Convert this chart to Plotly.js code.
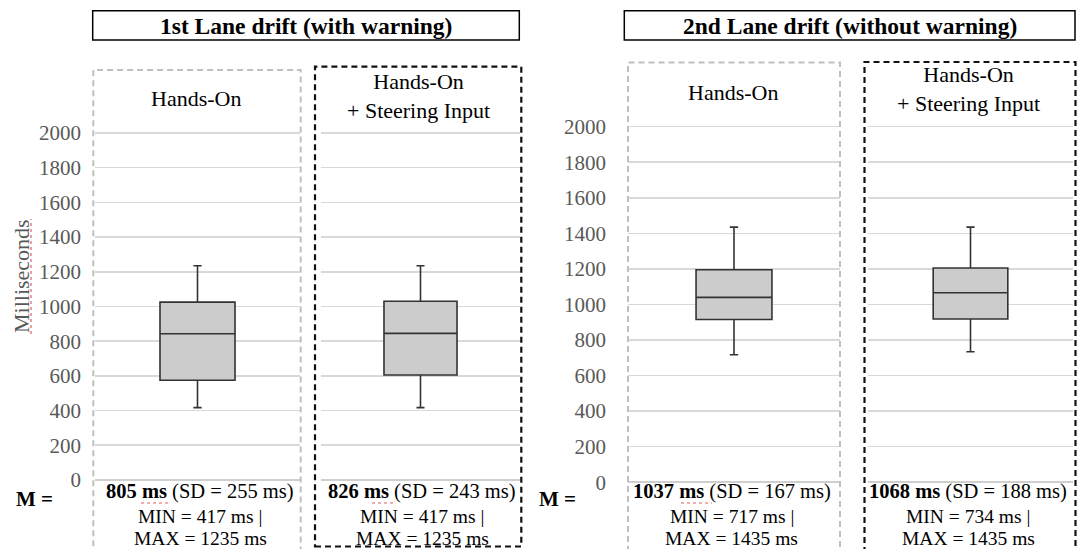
<!DOCTYPE html>
<html>
<head>
<meta charset="utf-8">
<script src="https://cdn.plot.ly/plotly-3.0.1.min.js"></script>
<style>html,body{margin:0;padding:0;background:#fff;}#chart{width:1079px;height:549px;}</style>
</head>
<body>
<div id="chart"></div>
<script>
// ---- data ----
const panelTitles = ['1st Lane drift (with warning)', '2nd Lane drift (without warning)'];
const conditions = ['Hands-On', 'Hands-On<br>+ Steering Input', 'Hands-On', 'Hands-On<br>+ Steering Input'];
const mins    = [417, 417, 717, 734];
const q1s     = [575, 605, 915, 918];
const medians = [843, 845, 1040, 1066];
const q3s     = [1025, 1030, 1195, 1205];
const maxs    = [1235, 1235, 1435, 1435];
const means   = [805, 826, 1037, 1068];
const sds     = [255, 243, 167, 188];
const yTicks  = [0, 200, 400, 600, 800, 1000, 1200, 1400, 1600, 1800, 2000];
const yTitle  = 'Milliseconds';
const mLabel  = 'M =';

// ---- helpers (pixel -> paper) ----
const W = 1079, H = 549;
const PX = p => p / W;
const PY = p => 1 - p / H;
const FONT = 'Liberation Serif, Times New Roman, serif';

// subplot pixel extents
const xDom = [[95, 300], [321, 520], [628, 840], [868, 1073]];
const xNames = ['x', 'x2', 'x3', 'x4'];
const yNames = ['y', 'y', 'y2', 'y2'];
const boxW = [0.366, 0.367, 0.358, 0.364];

const traces = mins.map((m, i) => ({
  type: 'box',
  x: [0],
  q1: [q1s[i]], median: [medians[i]], q3: [q3s[i]],
  lowerfence: [mins[i]], upperfence: [maxs[i]],
  width: boxW[i],
  whiskerwidth: 0.11,
  fillcolor: '#cccccc',
  line: {color: '#333333', width: 1.6},
  boxpoints: false,
  hoverinfo: 'skip',
  showlegend: false,
  xaxis: xNames[i], yaxis: yNames[i]
}));

const layout = {
  width: W, height: H,
  margin: {l: 0, r: 0, t: 0, b: 0},
  paper_bgcolor: '#ffffff', plot_bgcolor: 'rgba(0,0,0,0)',
  font: {family: FONT, size: 20, color: '#000'},
  showlegend: false,
  shapes: [], annotations: []
};

xNames.forEach((n, i) => {
  const key = i === 0 ? 'xaxis' : 'xaxis' + (i + 1);
  layout[key] = {
    domain: [PX(xDom[i][0]), PX(xDom[i][1])],
    anchor: yNames[i],
    range: [-0.5, 0.5], type: 'linear',
    showgrid: false, zeroline: false, showticklabels: false, showline: false, ticks: '',
    fixedrange: true
  };
});

const yCommon = {
  range: [0, 2050],
  tickvals: yTicks,
  ticktext: yTicks.map(String),
  showgrid: true, gridcolor: '#d9d9d9', gridwidth: 1.6,
  zeroline: true, zerolinecolor: '#cfcfcf', zerolinewidth: 1.8,
  showline: false, ticks: '',
  tickfont: {family: FONT, size: 21, color: '#595959'},
  fixedrange: true
};
layout.yaxis  = Object.assign({}, yCommon, {domain: [PY(480), PY(124.3)], anchor: 'x',  ticklabelstandoff: 13});
layout.yaxis2 = Object.assign({}, yCommon, {domain: [PY(482.2), PY(117.8)], anchor: 'x3', ticklabelstandoff: 21});

// panel title boxes
const titleBoxes = [[92.7, 10.7, 519.3, 40], [624.3, 10.7, 1075, 40]];
titleBoxes.forEach((b, i) => {
  layout.shapes.push({type: 'rect', xref: 'paper', yref: 'paper',
    x0: PX(b[0]), x1: PX(b[2]), y0: PY(b[3]), y1: PY(b[1]),
    line: {color: '#000', width: 1.5}, fillcolor: 'rgba(0,0,0,0)'});
  layout.annotations.push({xref: 'paper', yref: 'paper', x: PX((b[0] + b[2]) / 2), y: PY(26),
    xanchor: 'center', yanchor: 'middle', showarrow: false,
    text: '<b>' + panelTitles[i] + '</b>', font: {family: FONT, size: 23.5, color: '#000'}});
});

// dashed condition boxes
const dashBoxes = [
  {b: [93.3, 70, 300.7, 565], c: '#bfbfbf', w: 2, d: '6px,4px'},
  {b: [315, 66.7, 521.3, 546.5], c: '#111111', w: 2.2, d: '6px,4px'},
  {b: [628, 62.5, 840, 565], c: '#bfbfbf', w: 2, d: '6px,4px'},
  {b: [864.5, 62, 1075.5, 565], c: '#111111', w: 2.2, d: '6px,4px'}
];
dashBoxes.forEach(o => {
  layout.shapes.push({type: 'rect', xref: 'paper', yref: 'paper',
    x0: PX(o.b[0]), x1: PX(o.b[2]), y0: PY(o.b[3]), y1: PY(o.b[1]),
    line: {color: o.c, width: o.w, dash: o.d}, fillcolor: 'rgba(0,0,0,0)', layer: 'above'});
});

// condition headers
const headerPos = [[196, 99], [418, 96], [733, 92], [968, 89]];
conditions.forEach((c, i) => {
  layout.annotations.push({xref: 'paper', yref: 'paper', x: PX(headerPos[i][0]), y: PY(headerPos[i][1]),
    xanchor: 'center', yanchor: 'middle', showarrow: false, text: c,
    font: {family: FONT, size: 22, color: '#000'}});
});

// y axis title
layout.annotations.push({xref: 'paper', yref: 'paper', x: PX(21), y: PY(276), textangle: -90,
  xanchor: 'center', yanchor: 'middle', showarrow: false, text: yTitle,
  font: {family: FONT, size: 22, color: '#595959'}});
layout.shapes.push({type: 'line', xref: 'paper', yref: 'paper', x0: PX(31), x1: PX(31), y0: PY(334), y1: PY(219),
  line: {color: '#e06060', width: 1.2, dash: 'dot'}});

// "M =" labels
[[34, 499], [557, 499]].forEach(p => {
  layout.annotations.push({xref: 'paper', yref: 'paper', x: PX(p[0]), y: PY(p[1]),
    xanchor: 'center', yanchor: 'middle', showarrow: false, text: '<b>' + mLabel + '</b>',
    font: {family: FONT, size: 21, color: '#000'}});
});

// stats texts
const statX = [200, 422, 732, 968];
means.forEach((m, i) => {
  const lines = [
    '<b>' + m + ' ms</b> (SD = ' + sds[i] + ' ms)',
    'MIN = ' + mins[i] + ' ms |',
    'MAX = ' + maxs[i] + ' ms'
  ];
  const ys = [491, 516, 538.5];
  lines.forEach((t, k) => {
    layout.annotations.push({xref: 'paper', yref: 'paper', x: PX(statX[i]), y: PY(ys[k]),
      xanchor: 'center', yanchor: 'middle', showarrow: false, text: t,
      font: {family: FONT, size: k === 0 ? 20.5 : 19.5, color: '#000'}});
  });
});
// spell-check underlines under "ms"
[[141, 168], [372, 396], [681, 712]].forEach(u => {
  layout.shapes.push({type: 'line', xref: 'paper', yref: 'paper', x0: PX(u[0]), x1: PX(u[1]), y0: PY(503), y1: PY(503),
    line: {color: '#e06060', width: 1.2, dash: 'dot'}});
});

Plotly.newPlot('chart', traces, layout, {displayModeBar: false, staticPlot: true});
</script>
</body>
</html>
